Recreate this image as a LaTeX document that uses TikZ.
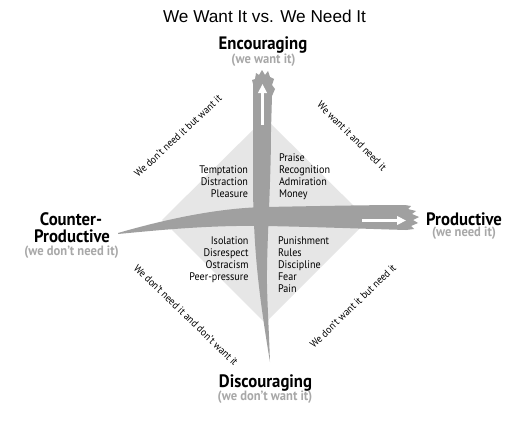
\documentclass[tikz,border=0pt]{standalone}
\usepackage{fontspec}
\setmainfont{Liberation Sans}
\newfontfamily\condfont[FakeStretch=0.92]{PT Sans}
\newfontfamily\headfont[FakeStretch=0.93]{PT Sans}
\usetikzlibrary{arrows.meta}
\definecolor{brush}{HTML}{A0A0A0}
\definecolor{diamondfill}{HTML}{E6E6E6}
\definecolor{subgray}{HTML}{A8A8A8}
\begin{document}
\begin{tikzpicture}[x=1pt,y=-1pt,
  every node/.style={inner sep=0pt, outer sep=0pt},
  title/.style={font=\fontsize{17.2}{20}\selectfont},
  pole/.style={font=\headfont\bfseries\fontsize{18}{20}\selectfont},
  polesub/.style={font=\headfont\bfseries\fontsize{13.5}{16}\selectfont, text=subgray},
  item/.style={font=\condfont\fontsize{11}{12}\selectfont},
  edgelabel/.style={font=\condfont\fontsize{10.5}{12}\selectfont},
  whitearrow/.style={white, line width=2.6pt, -{Triangle[length=9pt,width=8.5pt]}},
  ]
\useasboundingbox (0,0) rectangle (527,420);
\fill[white] (0,0) rectangle (527,420);

% background diamond
\fill[diamondfill] (265,118) -- (368,220) -- (265,323) -- (162,220) -- cycle;

% vertical brush stroke (frayed top, tapering tip at the bottom)
\fill[brush] (253,84) -- (253,190) .. controls (254,250) and (258,290) .. (270,362)
  .. controls (268.5,320) and (266.5,290) .. (267,270)
  .. controls (267.5,230) and (271,180) .. (271,130)
  -- (272,96) -- (275,89) -- (272,85) -- (274,79) -- (270,77) -- (268,71)
  -- (265,75) -- (262,70) -- (259,75) -- (256,73) -- (255,79) -- (252,80) -- cycle;

% horizontal brush stroke (pointed left end, frayed right end)
\fill[brush] (118,233) .. controls (170,218) and (220,208) .. (265,207)
  .. controls (320,206) and (370,205) .. (405,205)
  -- (411,206) -- (408,209) -- (416,211) -- (412,214) -- (419,217) -- (413,220)
  -- (418,223) -- (411,226) -- (414,229) -- (406,230)
  .. controls (370,229) and (320,227) .. (265,226)
  .. controls (210,225) and (160,230) .. (118,234) -- cycle;

% white arrows inside the strokes
\coordinate (vtail) at (262.5,125);
\coordinate (vhead) at (262.5,84);
\coordinate (htail) at (362,220.5);
\coordinate (hhead) at (406,220.5);
\draw[whitearrow] (vtail) -- (vhead);
\draw[whitearrow] (htail) -- (hhead);

% title
\node[title, anchor=base] (title) at (264.5,22.7) {We Want It vs. We Need It};

% poles
\node[pole, anchor=base] (enc) at (263,50) {Encouraging};
\node[polesub, anchor=base] (encsub) at (263.5,63.5) {(we want it)};
\node[pole, anchor=base] (cp1) at (71,225) {Counter-};
\node[pole, anchor=base] (cp2) at (72,242.5) {Productive};
\node[polesub, anchor=base] (cpsub) at (71.5,255.5) {(we don’t need it)};
\node[pole, anchor=base] (prod) at (464,225) {Productive};
\node[polesub, anchor=base] (prodsub) at (464,236) {(we need it)};
\node[pole, anchor=base] (disc) at (265.5,387) {Discouraging};
\node[polesub, anchor=base] (discsub) at (265,400.5) {(we don’t want it)};

% quadrant contents
\foreach \t [count=\i] in {Temptation,Distraction,Pleasure}
  \node[item, anchor=base east] (tl\i) at (248,161+12*\i) {\t};
\foreach \t [count=\i] in {Praise,Recognition,Admiration,Money}
  \node[item, anchor=base west] (tr\i) at (279,149+12*\i) {\t};
\foreach \t [count=\i] in {Isolation,Disrespect,Ostracism,Peer-pressure}
  \node[item, anchor=base east] (bl\i) at (248.5,232+12*\i) {\t};
\foreach \t [count=\i] in {Punishment,Rules,Discipline,Fear,Pain}
  \node[item, anchor=base west] (br\i) at (278,232+12*\i) {\t};

% diagonal captions
\node[edgelabel, rotate=43] (ul) at (178,136) {We don’t need it but want it};
\node[edgelabel, rotate=-45] (ur) at (352,136) {We want it and need it};
\node[edgelabel, rotate=-44] (ll) at (186,315) {We don’t need it and don’t want it};
\node[edgelabel, rotate=44] (lr) at (353,306) {We don’t want it but need it};
\end{tikzpicture}
\end{document}
